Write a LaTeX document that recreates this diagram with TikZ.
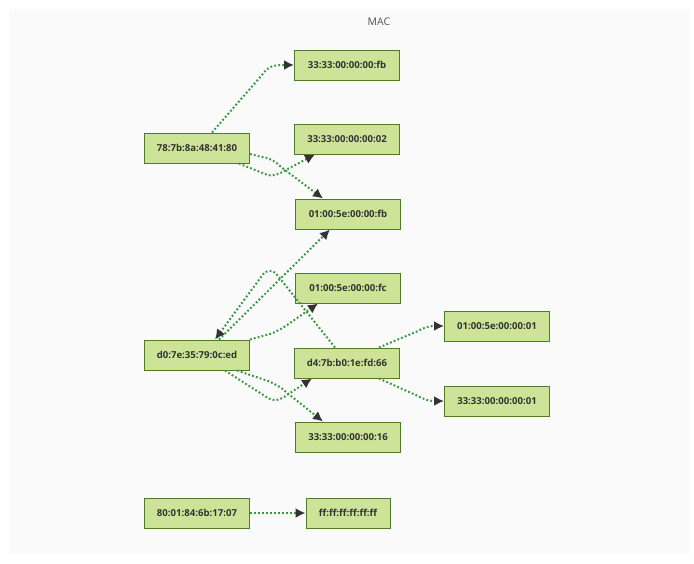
\documentclass[tikz,border=0pt]{standalone}
\usepackage{fontspec}
\setmainfont{Open Sans}
\usetikzlibrary{arrows.meta,calc}
\definecolor{nodefill}{HTML}{CDE498}
\definecolor{nodeline}{HTML}{4F7A28}
\definecolor{edgecol}{HTML}{3A963F}
\definecolor{txt}{HTML}{333333}
\definecolor{panel}{HTML}{FAFAFA}
\begin{document}
\begin{tikzpicture}[x=1pt,y=-1pt,
  mac/.style={draw=nodeline,line width=1pt,fill=nodefill,minimum width=105pt,minimum height=30pt,inner sep=0pt,text=txt,font=\fontsize{9.6}{11}\selectfont\bfseries},
  link/.style={draw=edgecol,line width=2pt,dash pattern=on 1.8pt off 2.2pt,-{Latex[length=10pt,width=10pt,fill=txt,color=txt]}},
  ]
\useasboundingbox (0,0) rectangle (694,563);
\fill[white] (0,0) rectangle (694,563);
\fill[panel] (9,9) rectangle (690,553);
\node[text=txt!85,font=\fontsize{10.5}{12}\selectfont] (title) at (379,22) {MAC};

\node[mac] (A) at (197,148) {78:7b:8a:48:41:80};
\node[mac] (B) at (347,65) {33:33:00:00:00:fb};
\node[mac] (C) at (347,139) {33:33:00:00:00:02};
\node[mac] (D) at (348,214) {01:00:5e:00:00:fb};
\node[mac] (E) at (348,288) {01:00:5e:00:00:fc};
\node[mac] (F) at (197,355) {d0:7e:35:79:0c:ed};
\node[mac] (G) at (347,363) {d4:7b:b0:1e:fd:66};
\node[mac] (H) at (348,437) {33:33:00:00:00:16};
\node[mac] (I) at (497,326) {01:00:5e:00:00:01};
\node[mac] (J) at (497,401) {33:33:00:00:00:01};
\node[mac] (K) at (197,513) {80:01:84:6b:17:07};
\node[mac,minimum width=84pt] (L) at (348,513) {ff:ff:ff:ff:ff:ff};

% A edges
\draw[link] ([xshift=15pt]A.north) -- (262,75) .. controls (268,66) and (274,65) .. (B.west);
\draw[link] ([xshift=42pt]A.south) -- (265,174) .. controls (272,177) and (277,175) .. (284,171) -- ([xshift=-32pt]C.south);
\draw[link] ([yshift=-6pt]A.east) -- (262,157) .. controls (270,158) and (275,161) .. (281,167) -- ([xshift=-25pt]D.north);

% F edges
\draw[link] ([xshift=22pt]F.north) -- ([xshift=-18pt]D.south);
\draw[link] ([xshift=-12pt]G.north) -- (278,276) .. controls (275,271) and (270,269) .. (264,273) -- ([xshift=18pt]F.north);
\draw[link] (F.north east) -- (270,334) .. controls (278,331) and (283,328) .. (290,323) -- ([xshift=-30pt]E.south);
\draw[link] ([xshift=28pt]F.south) -- (268,398) .. controls (273,401) and (278,401) .. (284,397) -- ([xshift=-35pt]G.south);
\draw[link] ([xshift=40pt]F.south) -- (268,381) .. controls (275,384) and (281,387) .. (286,392) -- ([xshift=-25pt]H.north);

% G edges
\draw[link] ([xshift=32pt]G.north) -- (418,331) .. controls (425,327) and (430,326) .. (I.west);
\draw[link] ([xshift=32pt]G.south) -- (418,396) .. controls (425,400) and (430,401) .. (J.west);

% K edge
\draw[link] (K.east) -- (L.west);
\end{tikzpicture}
\end{document}
